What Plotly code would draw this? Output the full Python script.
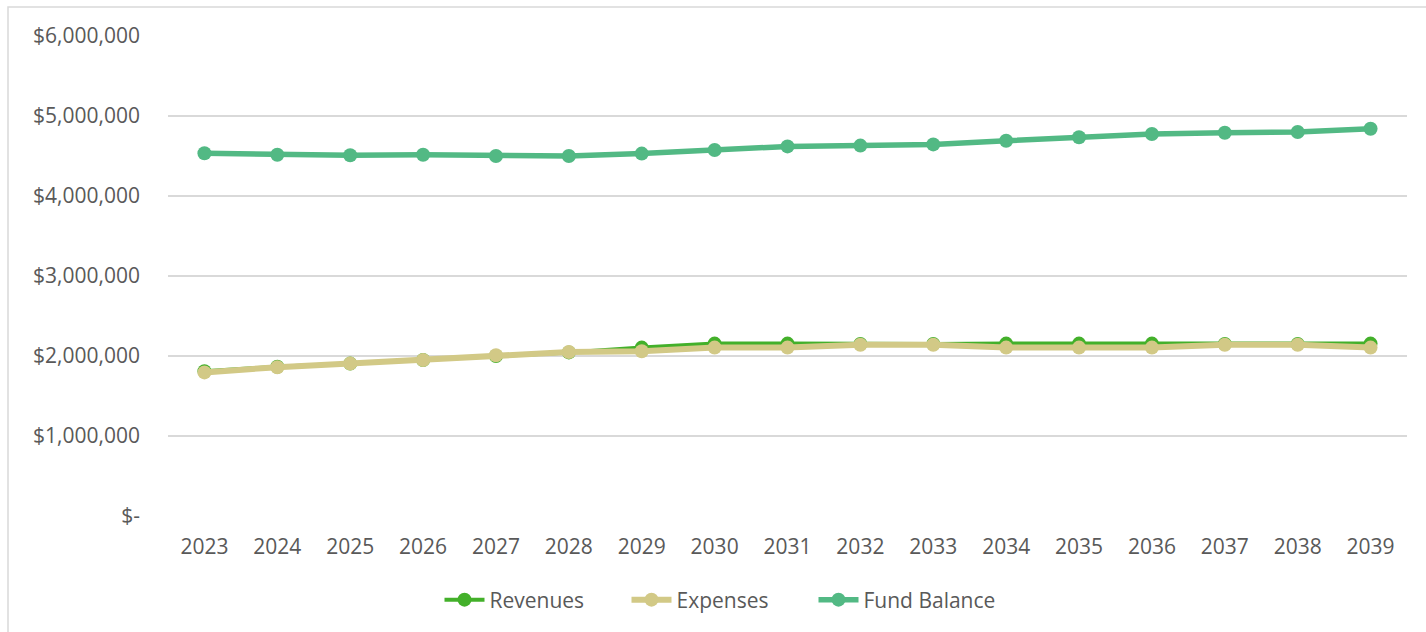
import plotly.graph_objects as go

years = [str(y) for y in range(2023, 2040)]
revenues = [1810000, 1865000, 1905000, 1950000, 2000000, 2045000, 2105000, 2155000,
            2155000, 2150000, 2150000, 2155000, 2155000, 2155000, 2150000, 2150000, 2155000]
expenses = [1795000, 1860000, 1905000, 1950000, 2010000, 2050000, 2060000, 2105000,
            2105000, 2140000, 2140000, 2105000, 2105000, 2105000, 2140000, 2140000, 2105000]
fund_balance = [4535000, 4515000, 4510000, 4515000, 4500000, 4500000, 4530000, 4575000,
                4620000, 4630000, 4645000, 4690000, 4735000, 4775000, 4790000, 4800000, 4840000]

y_ticks = [0, 1000000, 2000000, 3000000, 4000000, 5000000, 6000000]
y_labels = ["$-", "$1,000,000", "$2,000,000", "$3,000,000", "$4,000,000", "$5,000,000", "$6,000,000"]

FONT = "Open Sans"
TEXT = "#595959"
GRID = "#d9d9d9"
FS = 21

fig = go.Figure()
fig.add_trace(go.Scatter(x=years, y=revenues, name="Revenues", mode="lines+markers",
                         line=dict(color="#43b02a", width=4),
                         marker=dict(size=14, color="#43b02a")))
fig.add_trace(go.Scatter(x=years, y=expenses, name="Expenses", mode="lines+markers",
                         line=dict(color="#d2c986", width=6),
                         marker=dict(size=14, color="#d2c986")))
fig.add_trace(go.Scatter(x=years, y=fund_balance, name="Fund Balance", mode="lines+markers",
                         line=dict(color="#52b984", width=5.5),
                         marker=dict(size=14, color="#52b984")))

L, R, T, B = 168, 19, 36, 116
W, H = 1426, 632
pw, ph = W - L - R, H - T - B

def px_x(p):
    return (p - L) / pw

def px_y(p):
    return (H - B - p) / ph

fig.update_layout(
    width=W, height=H,
    margin=dict(l=L, r=R, t=T, b=B, pad=0),
    paper_bgcolor="white", plot_bgcolor="white",
    font=dict(family=FONT, size=FS, color=TEXT),
    showlegend=True,
    legend=dict(orientation="h", x=px_x(720), xanchor="center", y=px_y(600), yanchor="middle",
                font=dict(family=FONT, size=FS, color=TEXT), itemwidth=40,
                entrywidth=132, entrywidthmode="pixels",
                traceorder="normal", bgcolor="rgba(0,0,0,0)"),
    xaxis=dict(type="category", range=[-0.5, len(years) - 0.5], showgrid=False,
               showline=False, zeroline=False, ticks="",
               tickfont=dict(family=FONT, size=FS, color=TEXT), ticklabelstandoff=16),
    yaxis=dict(range=[0, 6000000], tickvals=y_ticks, ticktext=y_labels,
               showgrid=True, gridcolor=GRID, gridwidth=2, zeroline=False,
               showline=False, ticks="", tickfont=dict(family=FONT, size=FS, color=TEXT),
               ticklabelstandoff=27),
    shapes=[dict(type="rect", xref="paper", yref="paper",
                 x0=px_x(8), x1=px_x(W + 10), y0=px_y(H + 10), y1=px_y(7),
                 line=dict(color=GRID, width=1.5), fillcolor="rgba(0,0,0,0)", layer="below")],
)

fig.write_html("out.html")
